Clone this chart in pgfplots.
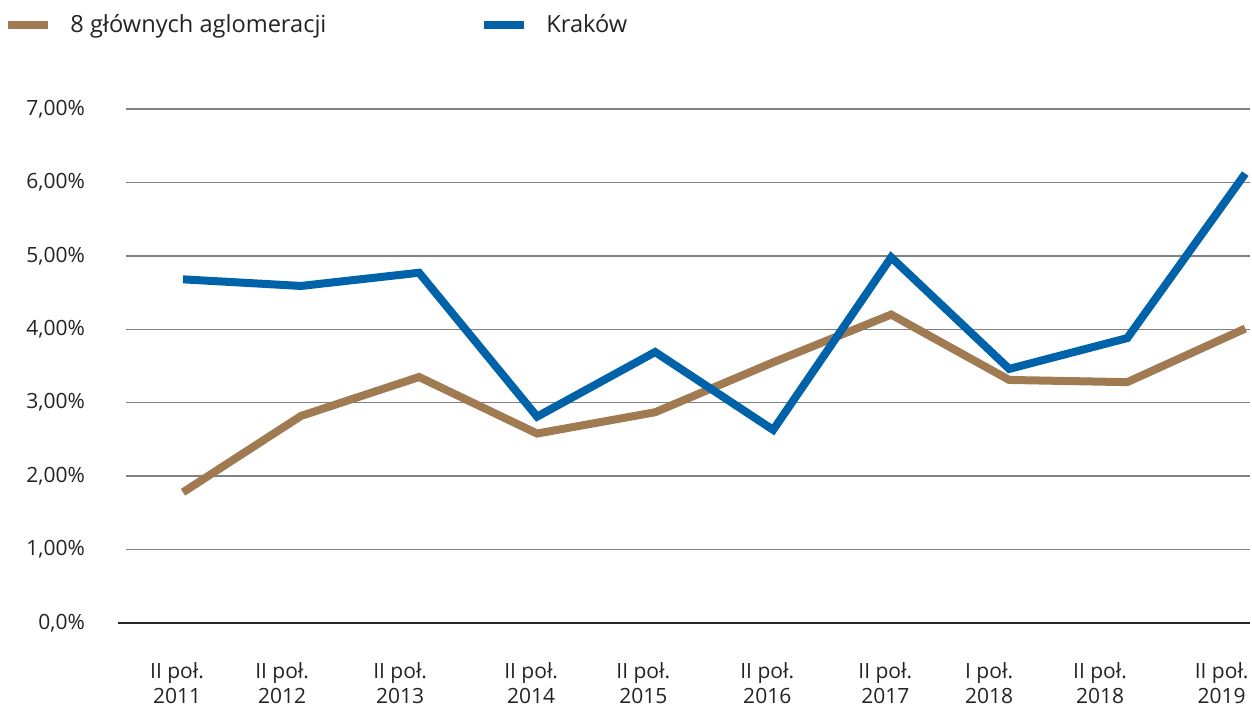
\documentclass[border=0pt]{standalone}
\usepackage{pgfplots}
\pgfplotsset{compat=1.18}
\usepackage{fontspec}
\setmainfont{Open Sans}
\definecolor{brn}{RGB}{160,123,82}
\definecolor{blu}{RGB}{0,99,170}
\definecolor{txt}{RGB}{35,35,35}
\begin{document}
\begin{tikzpicture}
\path[use as bounding box] (-63pt,-46pt) rectangle (563pt,311.5pt);
\begin{axis}[
  scale only axis, width=562pt, height=257pt,
  xmin=-0.483, xmax=9.04, ymin=0, ymax=7,
  clip=false,
  axis line style={draw=none},
  tick style={draw=none},
  ytick={0,1,2,3,4,5,6,7},
  yticklabels={{0,0\%},{1,00\%},{2,00\%},{3,00\%},{4,00\%},{5,00\%},{6,00\%},{7,00\%}},
  ymajorgrids,
  grid style={draw=gray, line width=0.75pt},
  xtick={-0.05,0.84,1.84,2.95,3.90,4.95,5.95,6.83,7.77,8.80},
  xticklabels={{II poł.\\2011},{II poł.\\2012},{II poł.\\2013},{II poł.\\2014},{II poł.\\2015},{II poł.\\2016},{II poł.\\2017},{I poł.\\2018},{II poł.\\2018},{II poł.\\2019}},
  xticklabel style={align=center, yshift=-16pt, font=\fontsize{10.5}{12.5}\selectfont, text=txt},
  yticklabel style={anchor=east, xshift=-17pt, font=\fontsize{10.5}{12.5}\selectfont, text=txt},
  legend columns=2,
  legend style={at={(-0.1085,1.163)}, anchor=west, draw=none, inner sep=0pt, fill=none,
    font=\fontsize{11.8}{14}\selectfont, text=txt,
    /tikz/every even column/.append style={column sep=75pt}},
  legend image code/.code={\draw[#1, line width=4pt] (0pt,0pt) -- (20pt,0pt); \path (27pt,0pt);},
  every axis plot/.append style={line width=4pt, line join=miter},
]
\draw[draw=black!85, line width=0.8pt] (axis cs:-0.55,0) -- (axis cs:9.04,0);
\addplot[color=brn, mark=none] coordinates {
 (0,1.78) (1,2.82) (2,3.35) (3,2.58) (4,2.87) (5,3.55) (6,4.20) (7,3.31) (8,3.28) (9,4.01)};
\addlegendentry{8 głównych aglomeracji}
\addplot[color=blu, mark=none] coordinates {
 (0,4.68) (1,4.59) (2,4.77) (3,2.81) (4,3.69) (5,2.63) (6,4.98) (7,3.46) (8,3.88) (9,6.12)};
\addlegendentry{Kraków}
\end{axis}
\end{tikzpicture}
\end{document}
